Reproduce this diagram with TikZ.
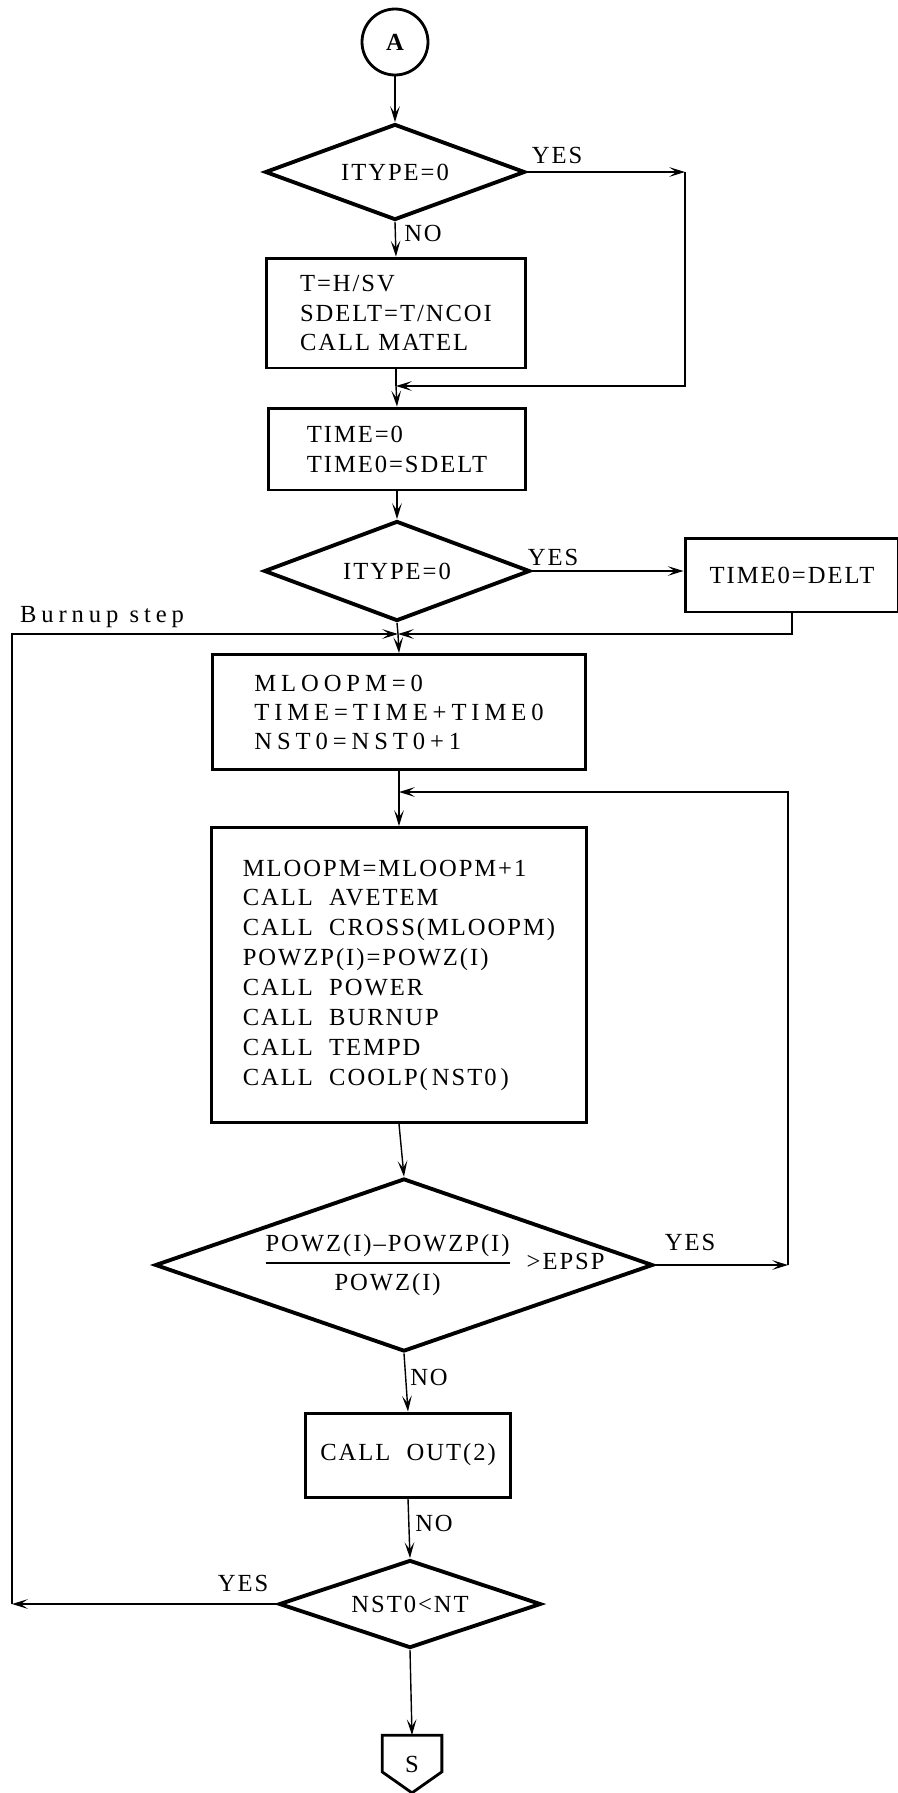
\documentclass[tikz,border=0pt]{standalone}
\usepackage{fontspec}
\usepackage{amsmath}
\newfontfamily\flowfont{Liberation Serif}[LetterSpace=8]
\newfontfamily\wideflowfont{Liberation Serif}[LetterSpace=20]
\usetikzlibrary{arrows.meta,shapes.geometric}
\tikzset{
  flowtext/.style={font=\flowfont\fontsize{14}{17}\selectfont},
  widetext/.style={font=\wideflowfont\fontsize{14}{16.5}\selectfont},
  process/.style={draw,line width=1.7pt,flowtext,align=left,inner sep=0pt},
  decision/.style={draw,diamond,line width=2.2pt,flowtext,inner sep=0pt,aspect=2.5},
  connector/.style={draw,circle,line width=1.6pt,flowtext,inner sep=0pt,
    minimum size=1.32cm},
  offpage/.style={flowtext,inner sep=0pt,minimum width=1.18cm,minimum height=1.14cm},
  answer/.style={flowtext},
  link/.style={line width=0.8pt},
  arrow/.style={link,-{Stealth[length=9pt,width=5.5pt,inset=4pt]}}
}

\begin{document}
\begin{tikzpicture}[x=0.02cm,y=-0.02cm]
  \useasboundingbox (0,0) rectangle (897,1793);

  % set-up part
  \node[connector] (A) at (395,42) {\bfseries A};
  \node[decision,minimum width=5.2cm,minimum height=1.92cm] (type1) at (395,172) {ITYPE=0};
  \node[process,minimum width=5.18cm,minimum height=2.2cm] (geom) at (396,313)
    {T=H/SV\\SDELT=T/NCOI\\CALL~MATEL};
  \node[process,minimum width=5.16cm,minimum height=1.64cm] (init) at (397,449)
    {TIME=0\\TIME0=SDELT};
  \node[decision,minimum width=5.32cm,minimum height=2cm] (type2) at (397,571) {ITYPE=0};
  \node[process,minimum width=4.28cm,minimum height=1.48cm] (delt) at (792,575) {TIME0=DELT};

  % burnup step
  \node[process,widetext,minimum width=7.46cm,minimum height=2.3cm] (step) at (399,712)
    {MLOOPM=0\\TIME=TIME+TIME0\\NST0=NST0+1};
  \node[process,minimum width=7.5cm,minimum height=5.9cm] (iter) at (399,975)
    {MLOOPM=MLOOPM+1\\CALL~~AVETEM\\CALL~~CROSS(MLOOPM)\\POWZP(I)=POWZ(I)\\
     CALL~~POWER\\CALL~~BURNUP\\CALL~~TEMPD\\CALL~~COOLP(\,NST0\,)};
  \node[decision,minimum width=9.96cm,minimum height=3.46cm] (conv) at (404,1265)
    {\makebox[0pt]{\hspace*{1.2cm}$\genfrac{}{}{1pt}{0}{\mbox{POWZ(I)\textendash POWZP(I)}}%
      {\rule{0pt}{12pt}\mbox{POWZ(I)}}$\hspace{0.3cm}>EPSP}};
  \node[process,minimum width=4.1cm,minimum height=1.68cm] (out) at (408,1455)
    {CALL~~OUT(2)};
  \node[decision,minimum width=5.24cm,minimum height=1.76cm] (last) at (410,1604) {NST0<NT};
  \node[offpage] (S) at (412,1764) {S};
  \draw[line width=1.6pt] (S.north west) -- (S.north east) -- ([yshift=0.42cm]S.south east)
    -- (S.south) -- ([yshift=0.42cm]S.south west) -- cycle;

  % labels
  \node[answer] (yes1) at (557,155) {YES};
  \node[answer] (no1) at (423,233) {NO};
  \node[answer] (yes2) at (553,557) {YES};
  \node[widetext] (burnup) at (102,617) {Burnup step};
  \node[answer] (yes3) at (690,1242) {YES};
  \node[answer] (no2) at (429,1377) {NO};
  \node[answer] (no3) at (434,1523) {NO};
  \node[answer] (yes4) at (243,1583) {YES};

  % turning points
  \coordinate (c1) at (685,172);
  \coordinate (m1) at (396,386);
  \coordinate (m2) at (398,634);
  \coordinate (m3) at (399,792);
  \coordinate (r1) at (788,1265);
  \coordinate (bl) at (12,1604);

  \draw[arrow] (A.south) -- (type1.north);
  \draw[arrow] (type1.south) -- (geom.north);
  \draw[arrow] (type1.east) -- (c1);
  \draw[arrow] (c1) |- (m1);
  \draw[link] (geom.south) -- (m1);
  \draw[arrow] (m1) -- (init.north);
  \draw[arrow] (init.south) -- (type2.north);
  \draw[arrow] (type2.east) -- (type2.east -| delt.west);
  \draw[arrow] (delt.south) |- (m2);
  \draw[link] (type2.south) -- (m2);
  \draw[arrow] (m2) -- (step.north);
  \draw[link] (step.south) -- (m3);
  \draw[arrow] (m3) -- (iter.north);
  \draw[arrow] (iter.south) -- (conv.north);
  \draw[arrow] (conv.east) -- (r1);
  \draw[arrow] (r1) |- (m3);
  \draw[arrow] (conv.south) -- (out.north);
  \draw[arrow] (out.south) -- (last.north);
  \draw[arrow] (last.south) -- (S.north);
  \draw[arrow] (last.west) -- (bl);
  \draw[arrow] (bl) |- (m2);
\end{tikzpicture}
\end{document}
